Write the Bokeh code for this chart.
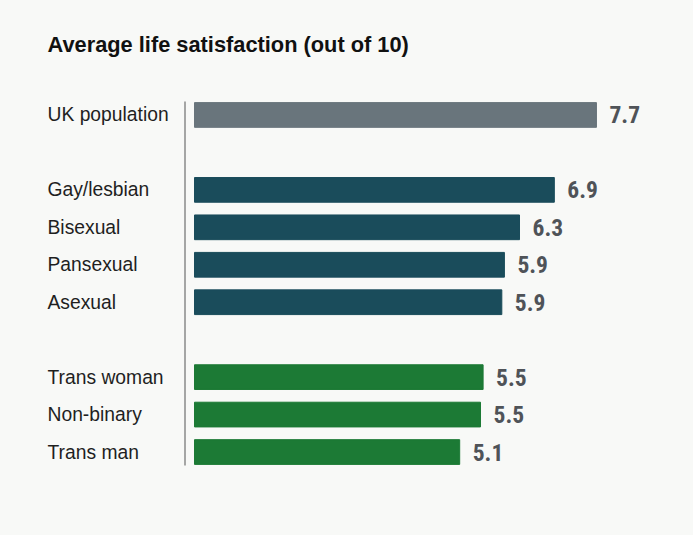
from bokeh.plotting import figure
from bokeh.models import ColumnDataSource, FactorRange, Range1d, Label
from bokeh.core.properties import value
from bokeh.embed import file_html
from bokeh.resources import INLINE

# data
categories = ["UK population", "Gay/lesbian", "Bisexual", "Pansexual", "Asexual",
              "Trans woman", "Non-binary", "Trans man"]
groups = ["uk", "sexuality", "sexuality", "sexuality", "sexuality",
          "gender", "gender", "gender"]
scores = [7.73, 6.92, 6.25, 5.96, 5.91, 5.55, 5.50, 5.10]
score_labels = ["7.7", "6.9", "6.3", "5.9", "5.9", "5.5", "5.5", "5.1"]

group_colors = {"uk": "#69757c", "sexuality": "#1a4c5b", "gender": "#1c7a35"}
BG = "#f8f9f7"

# row order top to bottom, with blank rows between groups
rows = ["UK population", " ", "Gay/lesbian", "Bisexual", "Pansexual", "Asexual",
        "  ", "Trans woman", "Non-binary", "Trans man"]

source = ColumnDataSource(data=dict(
    cat=categories,
    score=scores,
    label=score_labels,
    color=[group_colors[g] for g in groups],
))

W, H = 693, 535
px = 52.0  # pixels per unit on x
x0 = -194 / px
y_range = FactorRange(factors=rows[::-1], range_padding=1.729,
                      range_padding_units="absolute")

p = figure(width=W, height=H, output_backend="svg", toolbar_location=None,
           x_range=Range1d(x0, x0 + W / px), y_range=y_range,
           min_border_left=0, min_border_right=0, min_border_top=31,
           min_border_bottom=0)
p.axis.visible = False
p.grid.visible = False
p.outline_line_color = None
p.background_fill_color = BG
p.border_fill_color = BG

p.hbar(y="cat", left=0, right="score", height=0.66, color="color", source=source)

label_x = (47 - 194) / px
p.text(x=label_x, y="cat", text="cat", source=source, text_baseline="middle",
       text_align="left", text_font=value("Liberation Sans"),
       text_font_size="19.3px", text_color="#1f1f1f")

p.text(x="score", y="cat", text="label", source=source, x_offset=13,
       text_baseline="middle", text_align="left",
       text_font=value("Liberation Sans Narrow, Roboto Condensed, DejaVu Sans Condensed"),
       text_font_style="bold", text_font_size="23.5px", text_color="#4f5358")

# thin vertical rule between labels and bars
axis_x = (184.5 - 194) / px
p.segment(x0=axis_x, y0=0.14, x1=axis_x, y1=9.86, line_color="#8a8a8a",
          line_width=1.5)

p.add_layout(Label(x=label_x, y=11.37, text="Average life satisfaction (out of 10)",
                   text_baseline="middle", text_font="Liberation Sans",
                   text_font_style="bold", text_font_size="21.8px",
                   text_color="#111111"))

html = file_html(p, INLINE)
html = html.replace("<head>", "<head><style>body{background:%s}</style>" % BG, 1)
open("out.html", "w").write(html)
